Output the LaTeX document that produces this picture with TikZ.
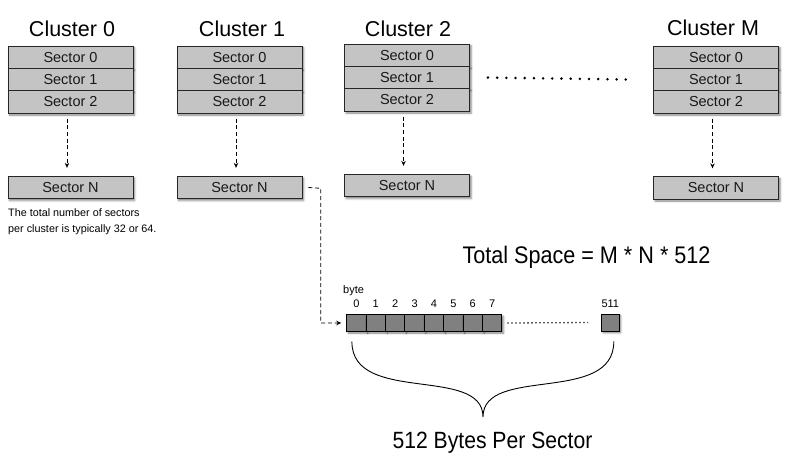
\documentclass[tikz,border=0pt]{standalone}
\usepackage{fontspec}
\setmainfont{Liberation Sans}
\newfontfamily\narrowfont[FakeStretch=0.9]{Liberation Sans}
\usetikzlibrary{shadows.blur,arrows.meta}
\definecolor{boxgray}{HTML}{C4C4C4}
\definecolor{bytegray}{HTML}{808080}
\definecolor{edgegray}{HTML}{262626}
\tikzset{
  boxshadow/.style={blur shadow={shadow xshift=1.6pt, shadow yshift=-1.8pt, shadow blur radius=2pt, shadow opacity=50}},
  sect/.style={draw=edgegray, line width=0.9pt, fill=boxgray, minimum width=125pt, minimum height=22.4pt,
    inner sep=0pt, font=\fontsize{14.5}{16}\selectfont, text=black!90, boxshadow},
  bytebox/.style={draw=black, line width=0.9pt, fill=bytegray, minimum width=19.4pt, minimum height=16.5pt,
    inner sep=0pt, boxshadow},
  title/.style={font=\fontsize{21.5}{26}\selectfont, anchor=base, inner sep=0pt},
  conn/.style={line width=0.8pt, dash pattern=on 4pt off 2.7pt, -{Stealth[length=5pt,width=4.5pt]}},
  num/.style={font=\fontsize{11}{13}\selectfont, anchor=base, inner sep=0pt},
  bigdots/.style={line width=2.8pt, line cap=round, dash pattern=on 0pt off 9.19pt},
  smalldots/.style={line width=1.3pt, dash pattern=on 1.3pt off 2.7pt}
}
\begin{document}
\begin{tikzpicture}[x=1pt,y=-1pt]
\useasboundingbox (0,0) rectangle (800,463);

% clusters
\foreach \n/\x/\t/\s/\tx/\ty in {0/70.5/46/187.5/72/36, 1/239.5/46/187.5/242/36, 2/407/44/185.5/408/36, M/716/46/188/713/35}{
  \node[title] (t\n) at (\tx,\ty) {Cluster \n};
  \node[sect] (c\n-0) at (\x,\t+11.2) {Sector 0};
  \node[sect] (c\n-1) at (\x,\t+33.6) {Sector 1};
  \node[sect] (c\n-2) at (\x,\t+56) {Sector 2};
  \node[sect] (c\n-N) at (\x,\s) {Sector N};
  \draw[conn] ([xshift=-3.5pt,yshift=-5pt]c\n-2.south) -- ([xshift=-3.5pt,yshift=8pt]c\n-N.north);
}

% dots between clusters
\draw[bigdots] ([xshift=18pt]c2-1.east) -- ([xshift=-19.5pt]cM-1.west);

% note
\node[anchor=base west, inner sep=0pt, align=left, font=\fontsize{10.8}{15.6}\selectfont] (note) at (8,232.3)
  {The total number of sectors\\per cluster is typically 32 or 64.};

% total space
\node[anchor=base, inner sep=0pt, font=\narrowfont\fontsize{24}{28}\selectfont] (total) at (586.5,263)
  {Total Space = M * N * 512};

% bytes
\foreach \i in {0,...,7}{
  \node[bytebox] (b\i) at (356.4+19.4*\i,323) {};
  \node[num] (n\i) at ([yshift=7pt]b\i.north) {\i};
}
\node[bytebox, minimum width=17.5pt, minimum height=17pt] (b511) at (610.3,322.5) {};
\node[num] (n511) at ([yshift=6.5pt]b511.north) {511};
\node[num, anchor=base west] (byte) at (343,293) {byte};
\draw[smalldots] ([xshift=5pt]b7.east) -- ([xshift=-13pt]b511.west);

% connector from cluster 1 sector N to byte 0
\coordinate (turn) at (320.7,188.3);
\draw[conn] ([xshift=6pt]c1-N.east) -- (turn) |- ([xshift=-5pt]b0.west);

% brace
\coordinate (brL) at ([xshift=-4.5pt,yshift=-10pt]b0.south);
\coordinate (brR) at ([xshift=3.5pt,yshift=-10pt]b511.south);
\coordinate (brT) at (483,417);
\draw[line width=0.9pt] (brL) .. controls (352,405) and (483,365) .. (brT)
  .. controls (483,365) and (614,405) .. (brR);

\node[anchor=base, inner sep=0pt, font=\narrowfont\fontsize{23.5}{28}\selectfont] (label) at (492.5,448)
  {512 Bytes Per Sector};
\end{tikzpicture}
\end{document}
